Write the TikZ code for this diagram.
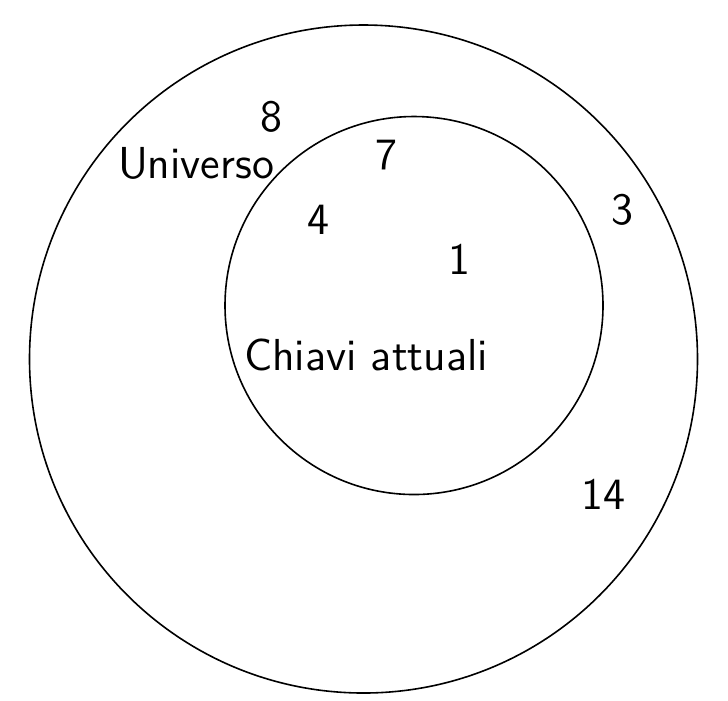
\documentclass[tikz,border=0pt]{standalone}
\usepackage{tikz}

\begin{document}
\begin{tikzpicture}[x=0.25pt,y=-0.25pt]
\tikzstyle{every node}+=[inner sep=0pt,font=\sffamily\fontsize{11.2pt}{13pt}\selectfont]
\useasboundingbox (0,0) rectangle (728,700);
\draw [black] (363.5,359) circle (334);
\draw [black] (414,305.5) circle (189);
\draw (196,163) node (universo) {Universo};
\draw (366,355) node (chiavi) {Chiavi attuali};
\draw (271,117) node (k8) {8};
\draw (386,155) node (k7) {7};
\draw (318,220) node (k4) {4};
\draw (622,210) node (k3) {3};
\draw (459,259) node (k1) {1};
\draw (603,494) node (k14) {14};
\end{tikzpicture}
\end{document}
